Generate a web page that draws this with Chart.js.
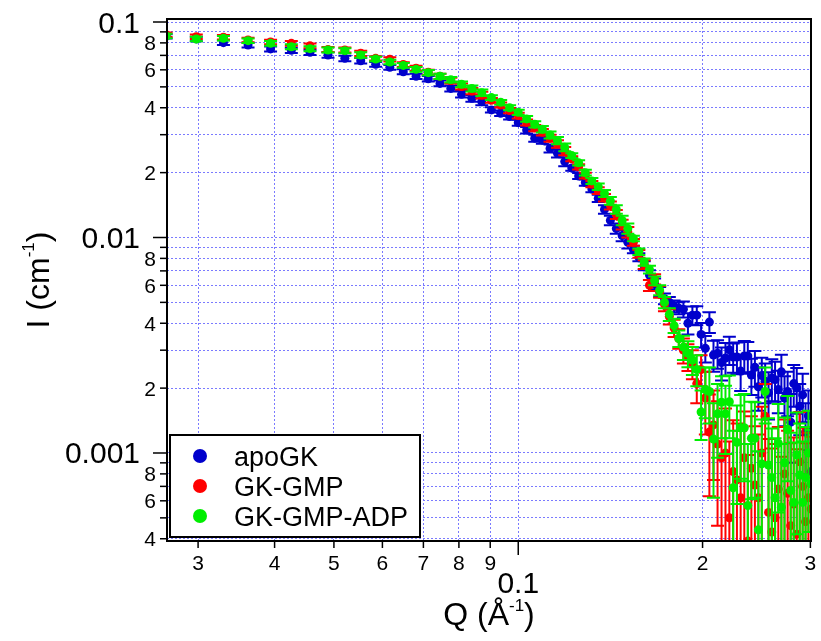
<!DOCTYPE html>
<html>
<head>
<meta charset="utf-8">
<script src="https://cdn.jsdelivr.net/npm/chart.js@4.4.1/dist/chart.umd.min.js"></script>
<style>
  html, body { margin: 0; padding: 0; background: #fff; }
  canvas { display: block; }
</style>
</head>
<body>
<canvas id="sansChart" width="821" height="641"></canvas>
<script>
// Q (1/A), shared by all three curves
const qValues = [
  0.0266,0.0298,0.0330,0.0362,0.0394,0.0426,0.0457,0.0489,0.0521,0.0553,
  0.0585,0.0617,0.0649,0.0681,0.0713,0.0745,0.0776,0.0808,0.0840,0.0872,
  0.0904,0.0936,0.0968,0.1000,0.1032,0.1064,0.1095,0.1127,0.1159,0.1191,
  0.1223,0.1255,0.1287,0.1319,0.1351,0.1383,0.1414,0.1446,0.1478,0.1510,
  0.1542,0.1574,0.1606,0.1638,0.1670,0.1702,0.1733,0.1765,0.1797,0.1829,
  0.1861,0.1893,0.1925,0.1957,0.1989,0.2021,0.2052,0.2084,0.2116,0.2148,
  0.2180,0.2212,0.2244,0.2276,0.2308,0.2340,0.2371,0.2403,0.2435,0.2467,
  0.2499,0.2531,0.2563,0.2595,0.2627,0.2659,0.2690,0.2722,0.2754,0.2786,
  0.2818,0.2850,0.2882,0.2914,0.2946,0.2978,0.3009
];

// I (1/cm)
const apoGK = [
  0.0858,0.0835,0.0802,0.0782,0.0750,0.0739,0.0723,0.0703,0.0678,0.0661,
  0.0636,0.0616,0.0588,0.0560,0.0545,0.0519,0.0492,0.0462,0.0443,0.0427,
  0.0391,0.0377,0.0364,0.0341,0.0315,0.0289,0.0283,0.0259,0.0246,0.0225,
  0.0210,0.0193,0.0180,0.0168,0.0152,0.0135,0.0120,0.0110,0.0102,0.0095,
  0.0088,0.0081,0.0074,0.0067,0.0061,0.0056,0.0052,0.0050,0.0048,0.0047,
  0.00465,0.0040,0.00436,0.00436,0.00355,0.00306,0.00405,0.00285,0.00290,0.00263,
  0.00276,0.00301,0.00279,0.00279,0.00240,0.00282,0.00282,0.00230,0.00250,0.00203,
  0.00229,0.00215,0.00190,0.00223,0.00219,0.00197,0.00238,0.00180,0.00193,0.00139,
  0.00210,0.00200,0.00165,0.00186,0.00125,0.00149,0.00082
];
const apoGKErr = [
  0.0020,0.0020,0.0020,0.0020,0.0020,0.0020,0.0020,0.0020,0.0020,0.0020,
  0.0016,0.0016,0.0016,0.0016,0.0016,0.0016,0.0016,0.0016,0.0016,0.0016,
  0.0011,0.0011,0.0011,0.0011,0.0011,0.0011,0.0011,0.0011,0.0011,0.0011,
  0.0006,0.0006,0.0006,0.0006,0.0006,0.0006,0.0006,0.0006,0.0006,0.0006,
  0.00035,0.00035,0.00035,0.00035,0.00035,0.0003,0.0003,0.0003,0.0003,0.0003,
  0.00040,0.00045,0.00042,0.00044,0.00046,0.00043,0.00045,0.00047,0.00044,0.00046,
  0.00048,0.00045,0.00043,0.00047,0.00046,0.00049,0.00045,0.00044,0.00047,0.00046,
  0.00048,0.00045,0.00047,0.00049,0.00046,0.00044,0.00048,0.00047,0.00045,0.00049,
  0.00046,0.00048,0.00044,0.00047,0.00045,0.00046,0.00048
];

const gkGmp = [
  0.0873,0.0855,0.0850,0.0825,0.0808,0.0796,0.0775,0.0745,0.0741,0.0716,
  0.0678,0.0671,0.0635,0.0610,0.0585,0.0560,0.0535,0.0502,0.0478,0.0458,
  0.0433,0.0412,0.0388,0.0368,0.0342,0.0322,0.0308,0.0289,0.0272,0.0252,
  0.0232,0.0213,0.0194,0.0177,0.0165,0.0153,0.0141,0.0128,0.0115,0.0106,
  0.0095,0.0084,0.0075,0.0060,0.0064,0.0056,0.0049,0.0043,0.0038,0.0034,
  0.0030,0.0028,0.0026,0.0021,0.00244,0.0018,0.00125,0.00135,0.0011,0.00095,
  0.0010,0.00050,0.00082,0.00075,0.00062,0.00095,0.00039,0.00085,0.00071,0.00062,
  0.00100,0.00148,0.00053,0.00043,0.00050,0.00068,0.00035,0.00080,0.00065,0.00046,
  0.00058,0.00042,0.00091,0.00070,0.00048,0.00062,0.00055
];
const gkGmpErr = [
  0.0020,0.0020,0.0020,0.0020,0.0020,0.0020,0.0020,0.0020,0.0020,0.0020,
  0.0016,0.0016,0.0016,0.0016,0.0016,0.0016,0.0016,0.0016,0.0016,0.0016,
  0.0011,0.0011,0.0011,0.0011,0.0011,0.0011,0.0011,0.0011,0.0011,0.0011,
  0.0006,0.0006,0.0006,0.0006,0.0006,0.0006,0.0006,0.0006,0.0006,0.0006,
  0.00035,0.00035,0.00035,0.00035,0.00035,0.00035,0.00035,0.00035,0.00035,0.00035,
  0.0004,0.0004,0.0004,0.0004,0.0004,0.00058,0.00062,0.00060,0.00064,0.00059,
  0.00061,0.00063,0.00060,0.00062,0.00065,0.00061,0.00059,0.00063,0.00062,0.00060,
  0.00064,0.00061,0.00063,0.00062,0.00060,0.00064,0.00061,0.00063,0.00062,0.00065,
  0.00060,0.00062,0.00064,0.00061,0.00063,0.00062,0.00064
];

const gkGmpAdp = [
  0.0861,0.0834,0.0840,0.0819,0.0796,0.0768,0.0752,0.0741,0.0736,0.0703,
  0.0673,0.0652,0.0629,0.0603,0.0582,0.0560,0.0540,0.0514,0.0492,0.0470,
  0.0446,0.0424,0.0400,0.0381,0.0355,0.0335,0.0318,0.0299,0.0282,0.0262,
  0.0240,0.0222,0.0200,0.0183,0.0172,0.0160,0.0148,0.0135,0.0120,0.0110,
  0.0099,0.0086,0.0077,0.0071,0.0063,0.0057,0.0050,0.0044,0.0039,0.0034,
  0.0031,0.0029,0.0027,0.00244,0.00155,0.00197,0.00193,0.00116,0.00152,0.00172,
  0.00152,0.00173,0.00069,0.00112,0.00131,0.00131,0.00057,0.00117,0.00117,0.00044,
  0.00089,0.00193,0.00088,0.00077,0.00062,0.00111,0.00056,0.00090,0.00129,0.00067,
  0.00059,0.00098,0.00079,0.00059,0.00077,0.00100,0.00072
];
const gkGmpAdpErr = [
  0.0020,0.0020,0.0020,0.0020,0.0020,0.0020,0.0020,0.0020,0.0020,0.0020,
  0.0016,0.0016,0.0016,0.0016,0.0016,0.0016,0.0016,0.0016,0.0016,0.0016,
  0.0011,0.0011,0.0011,0.0011,0.0011,0.0011,0.0011,0.0011,0.0011,0.0011,
  0.0006,0.0006,0.0006,0.0006,0.0006,0.0006,0.0006,0.0006,0.0006,0.0006,
  0.0003,0.0003,0.0003,0.0003,0.0003,0.0003,0.0003,0.0003,0.0003,0.0003,
  0.0004,0.0004,0.0004,0.0004,0.0004,0.00052,0.00056,0.00054,0.00057,0.00055,
  0.00053,0.00056,0.00058,0.00054,0.00055,0.00057,0.00053,0.00056,0.00055,0.00058,
  0.00054,0.00056,0.00057,0.00053,0.00055,0.00058,0.00054,0.00056,0.00055,0.00057,
  0.00053,0.00056,0.00058,0.00054,0.00055,0.00057,0.00056
];

const seriesNames = ['apoGK', 'GK-GMP', 'GK-GMP-ADP'];
const seriesColors = ['#0000cc', '#ff0000', '#00ee00'];

// axis ticks (Igor style: labelled minor ticks, big labels on decades)
const xTicks = [0.03, 0.04, 0.05, 0.06, 0.07, 0.08, 0.09, 0.1, 0.2, 0.3];
const xTickLabels = ['3', '4', '5', '6', '7', '8', '9', '0.1', '2', '3'];
const yTicks = [
  0.0004, 0.0005, 0.0006, 0.0007, 0.0008, 0.0009,
  0.001, 0.002, 0.003, 0.004, 0.005, 0.006, 0.007, 0.008, 0.009,
  0.01, 0.02, 0.03, 0.04, 0.05, 0.06, 0.07, 0.08, 0.09, 0.1
];
const yTickLabels = [
  '4', '', '6', '', '8', '',
  '0.001', '2', '', '4', '', '6', '', '8', '',
  '0.01', '2', '', '4', '', '6', '', '8', '', '0.1'
];
const majorTicks = [0.001, 0.01, 0.1];

const FONT = '"Liberation Sans", Arial, Helvetica, sans-serif';
const GRID = '#7a7aff';

function toPoints(vals) {
  return qValues.map((q, i) => ({ x: q, y: vals[i] }));
}

// vertical error bars with caps, drawn under each dataset's markers
const errorBars = {
  id: 'errorBars',
  beforeDatasetDraw(chart, args) {
    const ds = chart.data.datasets[args.index];
    const a = chart.chartArea;
    const ys = chart.scales.y;
    const ctx = chart.ctx;
    ctx.save();
    ctx.beginPath();
    ctx.rect(a.left, a.top, a.right - a.left, a.bottom - a.top);
    ctx.clip();
    ctx.strokeStyle = ds.backgroundColor;
    ctx.lineWidth = 2;
    args.meta.data.forEach((pt, i) => {
      const v = ds.data[i].y;
      const e = ds.errors[i];
      const yHi = ys.getPixelForValue(v + e);
      const lo = v - e;
      const yLo = lo > 0 ? ys.getPixelForValue(lo) : a.bottom + 30;
      ctx.beginPath();
      ctx.moveTo(pt.x, yHi); ctx.lineTo(pt.x, yLo);
      ctx.moveTo(pt.x - 6.5, yHi); ctx.lineTo(pt.x + 6.5, yHi);
      ctx.moveTo(pt.x - 6.5, yLo); ctx.lineTo(pt.x + 6.5, yLo);
      ctx.stroke();
    });
    ctx.restore();
  }
};

function drawSup(ctx, parts, x, y, align) {
  // parts: [text, size, raise]
  let w = 0;
  parts.forEach(p => { ctx.font = p[1] + 'px ' + FONT; w += ctx.measureText(p[0]).width; });
  let cx = align === 'center' ? x - w / 2 : x;
  ctx.textAlign = 'left';
  ctx.textBaseline = 'alphabetic';
  parts.forEach(p => {
    ctx.font = p[1] + 'px ' + FONT;
    ctx.fillText(p[0], cx, y - p[2]);
    cx += ctx.measureText(p[0]).width;
  });
}

const igorAxes = {
  id: 'igorAxes',
  afterDatasetsDraw(chart) {
    const ctx = chart.ctx;
    const a = chart.chartArea;
    const xs = chart.scales.x;
    const ys = chart.scales.y;
    ctx.save();
    ctx.strokeStyle = '#000';
    ctx.fillStyle = '#000';
    ctx.lineWidth = 2;
    ctx.strokeRect(a.left, a.top, a.right - a.left, a.bottom - a.top);

    ctx.lineWidth = 1.5;
    // y axis ticks + labels
    yTicks.forEach((v, i) => {
      const y = ys.getPixelForValue(v);
      const major = majorTicks.includes(v);
      const len = major ? 14 : 7;
      ctx.beginPath();
      ctx.moveTo(a.left - len, y); ctx.lineTo(a.left, y);
      ctx.stroke();
      const lab = yTickLabels[i];
      if (!lab) return;
      ctx.textAlign = 'right';
      ctx.textBaseline = 'alphabetic';
      if (major) {
        ctx.font = '30px ' + FONT;
        ctx.fillText(lab, a.left - 27, y + 10.5);
      } else {
        ctx.font = '21px ' + FONT;
        ctx.fillText(lab, a.left - 11, y + 7.5);
      }
    });
    // x axis ticks + labels
    xTicks.forEach((v, i) => {
      const x = xs.getPixelForValue(v);
      const major = majorTicks.includes(v);
      const len = major ? 14 : 7;
      ctx.beginPath();
      ctx.moveTo(x, a.bottom); ctx.lineTo(x, a.bottom + len);
      ctx.stroke();
      ctx.textAlign = 'center';
      ctx.textBaseline = 'alphabetic';
      if (major) {
        ctx.font = '30px ' + FONT;
        ctx.fillText(xTickLabels[i], x, a.bottom + 52);
      } else {
        ctx.font = '21px ' + FONT;
        ctx.fillText(xTickLabels[i], x, a.bottom + 29);
      }
    });

    // axis titles
    const midX = (a.left + a.right) / 2;
    drawSup(ctx, [['Q (\u00C5', 32, 0], ['-1', 17, 14], [')', 32, 0]], midX, 625, 'center');
    ctx.save();
    ctx.translate(49, (a.top + a.bottom) / 2);
    ctx.rotate(-Math.PI / 2);
    drawSup(ctx, [['I (cm', 32, 0], ['-1', 17, 15], [')', 32, 0]], 0, 0, 'center');
    ctx.restore();

    // legend box
    const lx = a.left + 3, ly = a.bottom - 106, lw = 250, lh = 102;
    ctx.fillStyle = '#fff';
    ctx.fillRect(lx, ly, lw, lh);
    ctx.lineWidth = 2;
    ctx.strokeRect(lx, ly, lw, lh);
    seriesNames.forEach((name, i) => {
      const cy = ly + 21 + i * 30;
      ctx.fillStyle = seriesColors[i];
      ctx.beginPath();
      ctx.arc(lx + 30, cy, 7, 0, Math.PI * 2);
      ctx.fill();
      ctx.fillStyle = '#000';
      ctx.font = '27px ' + FONT;
      ctx.textAlign = 'left';
      ctx.textBaseline = 'alphabetic';
      ctx.fillText(name, lx + 64, cy + 9.5);
    });
    ctx.restore();
  }
};

const allVals = [apoGK, gkGmp, gkGmpAdp];
const allErrs = [apoGKErr, gkGmpErr, gkGmpAdpErr];

const datasets = seriesNames.map((name, i) => ({
  label: name,
  data: toPoints(allVals[i]),
  errors: allErrs[i],
  backgroundColor: seriesColors[i],
  borderColor: seriesColors[i],
  pointRadius: 4.5,
  pointBorderWidth: 0,
  showLine: false,
  clip: 1,
  order: 3 - i
}));

function logAxis(min, max, ticks) {
  return {
    type: 'logarithmic',
    min: min,
    max: max,
    afterBuildTicks: (s) => { s.ticks = ticks.map(v => ({ value: v })); },
    ticks: { display: false },
    grid: { color: GRID, lineWidth: 1, drawTicks: false, tickLength: 0 },
    border: { display: false, dash: [2, 2] }
  };
}

new Chart(document.getElementById('sansChart'), {
  type: 'scatter',
  data: { datasets },
  options: {
    responsive: false,
    animation: false,
    devicePixelRatio: 1,
    layout: { padding: { left: 167, top: 19, right: 10, bottom: 100 } },
    plugins: { legend: { display: false }, tooltip: { enabled: false } },
    scales: {
      x: logAxis(0.02669, 0.3007, xTicks),
      y: logAxis(0.0003905, 0.10326, yTicks)
    }
  },
  plugins: [errorBars, igorAxes]
});
</script>
</body>
</html>
